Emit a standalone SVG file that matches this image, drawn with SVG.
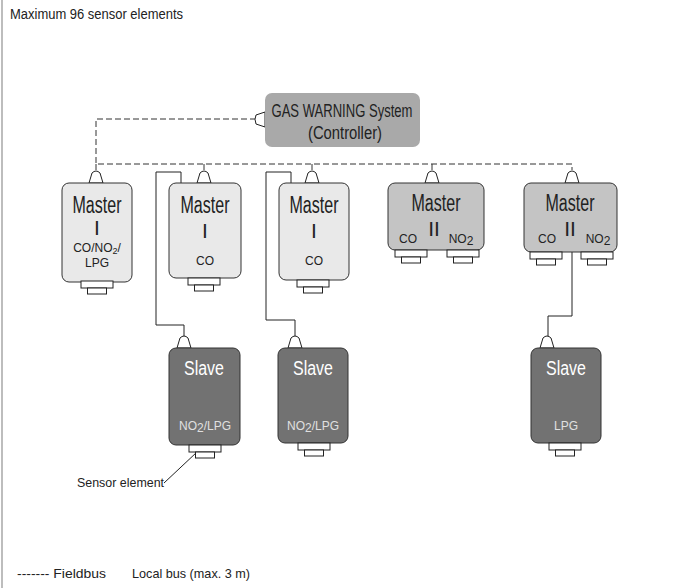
<svg xmlns="http://www.w3.org/2000/svg" width="675" height="588" viewBox="0 0 675 588">
<style>
text{font-family:"Liberation Sans",Arial,sans-serif;fill:#222}
.m1{fill:#e9e9e9;stroke:#333;stroke-width:1}
.m2{fill:#c4c4c4;stroke:#333;stroke-width:1}
.sl{fill:#727272;stroke:#333;stroke-width:1}
.ctl{fill:#a9a9a9;stroke:none}
.con{fill:#fff;stroke:#222;stroke-width:1}
.fb{fill:none;stroke:#333;stroke-width:1;stroke-dasharray:6,3}
.st{fill:none;stroke:#333;stroke-width:1}
.lb{fill:none;stroke:#222;stroke-width:1}
.w{fill:#fff}
.lw{fill:#e0e0e0}
.t{text-anchor:middle}
.rn{font-size:21px;text-anchor:middle}
.sm{font-size:12px;text-anchor:middle}
</style>
<defs>
<path id="topc" d="M-7,0 L-4,-10 Q0,-14 4,-10 L7,0 Z" class="con"/>
<g id="botc"><rect x="-16" y="0" width="32" height="7" class="con"/><rect x="-9.5" y="7" width="19" height="6" class="con"/></g>
</defs>
<line x1="2" y1="0" x2="2" y2="588" stroke="#bdbdbd" stroke-width="2"/>
<text x="10" y="19" font-size="14" textLength="173" lengthAdjust="spacingAndGlyphs">Maximum 96 sensor elements</text>

<g id="connectors">
<polyline class="fb" points="256,119 96,119 96,164 572,164 572,170"/>
<line class="st" x1="96" y1="164" x2="96" y2="170"/>
<line class="st" x1="204" y1="164" x2="204" y2="170"/>
<line class="st" x1="312" y1="164" x2="312" y2="170"/>
<line class="st" x1="432" y1="164" x2="432" y2="170"/>
<polyline class="lb" points="181,183 181,172 156,172 156,325 184,325 184,337"/>
<polyline class="lb" points="291,183 291,172 266,172 266,320 295,320 295,337"/>
<polyline class="lb" points="572,252 572,316 548,316 548,337"/>
<line class="lb" x1="164" y1="483" x2="197" y2="452"/>
</g>

<g id="controller">
<path class="con" d="M265,112 L256,115 Q254,119 256,124 L265,127 Z"/>
<rect class="ctl" x="265" y="93" width="155" height="54" rx="7"/>
<text class="t" x="342" y="117" font-size="18" textLength="141" lengthAdjust="spacingAndGlyphs">GAS WARNING System</text>
<text class="t" x="345" y="139" font-size="18" textLength="74" lengthAdjust="spacingAndGlyphs">(Controller)</text>
</g>

<g id="master1">
<use href="#topc" x="96" y="183"/>
<rect class="m1" x="62" y="183" width="70" height="99" rx="7"/>
<use href="#botc" x="97" y="281"/>
<text class="t" x="97" y="213" font-size="23" textLength="49" lengthAdjust="spacingAndGlyphs">Master</text>
<text class="rn" x="97" y="235">I</text>
<text class="sm" x="97" y="252">CO/NO<tspan font-size="9" dy="2">2</tspan><tspan dy="-2">/</tspan></text>
<text class="sm" x="97" y="267">LPG</text>
</g>

<g id="master2">
<use href="#topc" x="204" y="183"/>
<rect class="m1" x="169" y="183" width="72" height="95" rx="7"/>
<use href="#botc" x="204" y="278"/>
<text class="t" x="205" y="213" font-size="23" textLength="49" lengthAdjust="spacingAndGlyphs">Master</text>
<text class="rn" x="205" y="238">I</text>
<text class="sm" x="205" y="265">CO</text>
</g>

<g id="master3">
<use href="#topc" x="312" y="183"/>
<rect class="m1" x="279" y="183" width="70" height="97" rx="7"/>
<use href="#botc" x="313" y="280"/>
<text class="t" x="314" y="213" font-size="23" textLength="49" lengthAdjust="spacingAndGlyphs">Master</text>
<text class="rn" x="314" y="238">I</text>
<text class="sm" x="314" y="265">CO</text>
</g>

<g id="master4">
<use href="#topc" x="432" y="183"/>
<rect class="m2" x="388" y="183" width="96" height="67" rx="7"/>
<use href="#botc" x="411" y="250"/>
<use href="#botc" x="463" y="250"/>
<text class="t" x="436" y="211" font-size="23" textLength="49" lengthAdjust="spacingAndGlyphs">Master</text>
<text class="rn" x="434" y="236">II</text>
<text class="sm" x="408" y="243">CO</text>
<text class="sm" x="461" y="243">NO<tspan dy="2">2</tspan></text>
</g>

<g id="master5">
<use href="#topc" x="572" y="183"/>
<rect class="m2" x="524" y="183" width="93" height="69" rx="7"/>
<use href="#botc" x="546" y="252"/>
<use href="#botc" x="597" y="252"/>
<text class="t" x="570" y="211" font-size="23" textLength="49" lengthAdjust="spacingAndGlyphs">Master</text>
<text class="rn" x="570" y="236">II</text>
<text class="sm" x="547" y="243">CO</text>
<text class="sm" x="598" y="243">NO<tspan dy="2">2</tspan></text>
</g>

<g id="slave1">
<use href="#topc" x="184" y="348"/>
<rect class="sl" x="169" y="348" width="71" height="97" rx="7"/>
<use href="#botc" x="205" y="445"/>
<text class="t w" x="204" y="375" font-size="20" textLength="40" lengthAdjust="spacingAndGlyphs">Slave</text>
<text class="sm lw" x="205" y="430">NO<tspan dy="2">2</tspan><tspan dy="-2">/LPG</tspan></text>
</g>

<g id="slave2">
<use href="#topc" x="295" y="348"/>
<rect class="sl" x="278" y="348" width="70" height="95" rx="7"/>
<use href="#botc" x="314" y="443"/>
<text class="t w" x="313" y="375" font-size="20" textLength="40" lengthAdjust="spacingAndGlyphs">Slave</text>
<text class="sm lw" x="313" y="430">NO<tspan dy="2">2</tspan><tspan dy="-2">/LPG</tspan></text>
</g>

<g id="slave3">
<use href="#topc" x="547" y="348"/>
<rect class="sl" x="531" y="348" width="70" height="95" rx="7"/>
<use href="#botc" x="565" y="443"/>
<text class="t w" x="566" y="375" font-size="20" textLength="40" lengthAdjust="spacingAndGlyphs">Slave</text>
<text class="sm lw" x="566" y="430">LPG</text>
</g>

<text x="77" y="487" font-size="13" textLength="87" lengthAdjust="spacingAndGlyphs">Sensor element</text>
<text x="17" y="578" font-size="13" textLength="89" lengthAdjust="spacingAndGlyphs">------- Fieldbus</text>
<text x="132" y="578" font-size="13" textLength="118" lengthAdjust="spacingAndGlyphs">Local bus (max. 3 m)</text>
</svg>
